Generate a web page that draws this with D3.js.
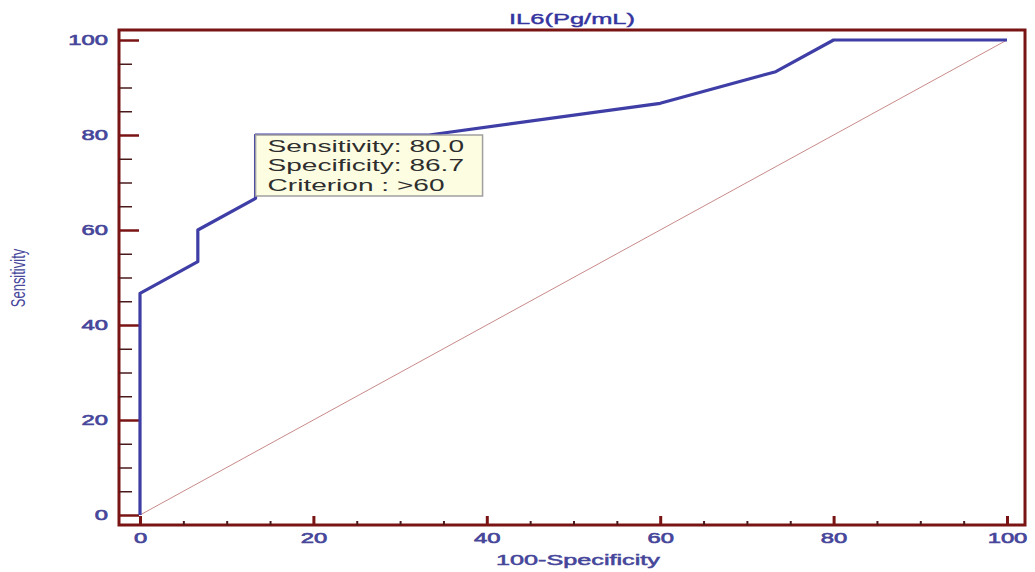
<!DOCTYPE html>
<html>
<head>
<meta charset="utf-8">
<script src="https://cdn.jsdelivr.net/npm/d3@7"></script>
<style>
  html, body { margin: 0; padding: 0; background: #ffffff; }
  svg { display: block; font-family: "Liberation Sans", Arial, sans-serif; }
</style>
</head>
<body>
<svg id="chart" width="1035" height="572"></svg>
<script>
// ---- data ----
const fpr = [0, 0, 6.67, 6.67, 13.33, 13.33, 33.33, 60, 73.33, 80, 100];          // 100-Specificity
const sens = [0, 46.67, 53.33, 60, 66.67, 80, 80, 86.67, 93.33, 100, 100];        // Sensitivity
const refX = [0, 100];
const refY = [0, 100];
const majorTicks = [0, 20, 40, 60, 80, 100];
const minorTicks = [5, 10, 15, 25, 30, 35, 45, 50, 55, 65, 70, 75, 85, 90, 95];
const titleText = "IL6(Pg/mL)";
const xLabel = "100-Specificity";
const yLabel = "Sensitivity";
const criterionPoint = [13.33, 80];
const tipLines = ["Sensitivity: 80.0", "Specificity: 86.7", "Criterion : >60"];

// ---- layout ----
const svg = d3.select("#chart");
const frame = { left: 119, right: 1025, top: 30, bottom: 525 };
const x = d3.scaleLinear().domain([0, 100]).range([140, 1007]);
const y = d3.scaleLinear().domain([0, 100]).range([515, 40]);
const frameColor = "#7a1414";
const labelColor = "#46469a";
const sx = 1.7; // horizontal stretch of the text in the reference

// frame
svg.append("rect")
  .attr("x", frame.left).attr("y", frame.top)
  .attr("width", frame.right - frame.left).attr("height", frame.bottom - frame.top)
  .attr("fill", "none").attr("stroke", frameColor).attr("stroke-width", 3);

// y axis major
const yAxisG = svg.append("g").attr("transform", `translate(${frame.left},0)`)
  .call(d3.axisLeft(y).tickValues(majorTicks).tickSizeInner(-20).tickSizeOuter(0).tickPadding(6.5).tickFormat(d3.format("d")));
yAxisG.select(".domain").remove();
yAxisG.selectAll(".tick line").attr("stroke", frameColor).attr("stroke-width", 2.5);
yAxisG.selectAll(".tick text")
  .attr("transform", `scale(${sx},1)`)
  .attr("fill", labelColor).attr("stroke", labelColor).attr("stroke-width", 0.6)
  .attr("font-size", 14).attr("font-family", "Liberation Sans, Arial, sans-serif");

// y axis minor
const yMinorG = svg.append("g").attr("transform", `translate(${frame.left},0)`)
  .call(d3.axisLeft(y).tickValues(minorTicks).tickSizeInner(-13).tickSizeOuter(0).tickFormat(""));
yMinorG.select(".domain").remove();
yMinorG.selectAll(".tick line").attr("stroke", "#4a1a1a").attr("stroke-width", 1.5);

// x axis major
const xAxisG = svg.append("g").attr("transform", `translate(0,${frame.bottom})`)
  .call(d3.axisBottom(x).tickValues(majorTicks).tickSizeInner(-9).tickSizeOuter(0).tickPadding(8).tickFormat(d3.format("d")));
xAxisG.select(".domain").remove();
xAxisG.selectAll(".tick line").attr("stroke", frameColor).attr("stroke-width", 3);
xAxisG.selectAll(".tick text")
  .attr("transform", `scale(${sx},1)`)
  .attr("fill", labelColor).attr("stroke", labelColor).attr("stroke-width", 0.6)
  .attr("font-size", 14).attr("font-family", "Liberation Sans, Arial, sans-serif");

// x axis minor
const xMinorG = svg.append("g").attr("transform", `translate(0,${frame.bottom})`)
  .call(d3.axisBottom(x).tickValues(minorTicks).tickSizeInner(-4).tickSizeOuter(0).tickFormat(""));
xMinorG.select(".domain").remove();
xMinorG.selectAll(".tick line").attr("stroke", "#4a1a1a").attr("stroke-width", 2);

// reference diagonal
svg.append("path")
  .datum(refX.map((v, i) => [v, refY[i]]))
  .attr("d", d3.line().x(d => x(d[0])).y(d => y(d[1])))
  .attr("fill", "none").attr("stroke", "#c98a8a").attr("stroke-width", 1);

// ROC curve
svg.append("path")
  .datum(fpr.map((v, i) => [v, sens[i]]))
  .attr("d", d3.line().x(d => x(d[0])).y(d => y(d[1])))
  .attr("fill", "none").attr("stroke", "#3e3ea6").attr("stroke-width", 3.2)
  .attr("stroke-linejoin", "round");

// tooltip box anchored at the criterion point
const tx = x(criterionPoint[0]), ty = y(criterionPoint[1]);
svg.append("rect")
  .attr("x", tx).attr("y", ty)
  .attr("width", 227).attr("height", 61)
  .attr("fill", "#fdfde2").attr("stroke", "#a0a0a0").attr("stroke-width", 1.5);
const tipG = svg.append("g").attr("transform", `translate(${tx + 12},${ty}) scale(1.65,1)`);
tipG.selectAll("text").data(tipLines).join("text")
  .attr("x", 0).attr("y", (d, i) => 17 + i * 19.5)
  .attr("font-size", 17).attr("fill", "#2e2e2e")
  .text(d => d);

// title
svg.append("g").attr("transform", `translate(572,24) scale(${sx},1)`)
  .append("text").attr("text-anchor", "middle")
  .attr("font-size", 15).attr("fill", "#3434a0").attr("stroke", "#3434a0").attr("stroke-width", 0.4)
  .text(titleText);

// x label
svg.append("g").attr("transform", `translate(578,565) scale(1.8,1)`)
  .append("text").attr("text-anchor", "middle")
  .attr("font-size", 14).attr("fill", labelColor).attr("stroke", labelColor).attr("stroke-width", 0.5)
  .text(xLabel);

// y label
svg.append("g").attr("transform", `translate(25,278) scale(1.6,1) rotate(-90)`)
  .append("text").attr("text-anchor", "middle")
  .attr("font-size", 13).attr("fill", labelColor).text(yLabel);
</script>
</body>
</html>
